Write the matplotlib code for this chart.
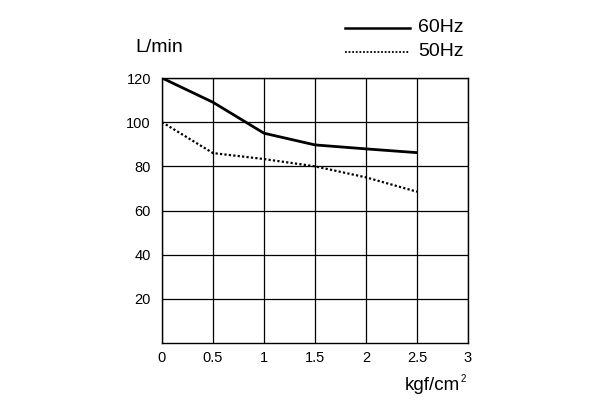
import matplotlib
matplotlib.use("Agg")
import matplotlib.pyplot as plt
from matplotlib.lines import Line2D

plt.rcParams['font.family'] = ['Liberation Sans', 'DejaVu Sans']

pressure = [0, 0.5, 1, 1.5, 2, 2.5]
flow_60hz = [120, 109, 95, 89.7, 87.9, 86.2]
flow_50hz = [100, 86, 83.3, 80, 75, 68.5]
x_ticks = [0, 0.5, 1, 1.5, 2, 2.5, 3]
x_tick_labels = ["0", "0.5", "1", "1.5", "2", "2.5", "3"]
y_ticks = [20, 40, 60, 80, 100, 120]
y_tick_labels = ["20", "40", "60", "80", "100", "120"]

fig = plt.figure(figsize=(6, 4), dpi=100)
ax = fig.add_axes([162/600, 1-343/400, (468-162)/600, (343-78)/400])
ax.set_xlim(0, 3)
ax.set_ylim(0, 120)
ax.set_xticks(x_ticks)
ax.set_xticklabels(x_tick_labels)
ax.set_yticks(y_ticks)
ax.set_yticklabels(y_tick_labels)
ax.grid(True, color='black', linewidth=0.9)
ax.tick_params(length=0, labelsize=10.5)
ax.tick_params(axis='x', pad=6)
ax.tick_params(axis='y', pad=8)
for s in ax.spines.values():
    s.set_color('black')
    s.set_linewidth(1.0)

ax.plot(pressure, flow_60hz, color='black', linewidth=2.0, solid_capstyle='butt')
ax.plot(pressure, flow_50hz, color='black', linewidth=1.6, linestyle=(0, (1, 1)))

fig.text(135/600, 1-48/400, "L/min", fontsize=14, va='center', ha='left')
fig.text(460/600, 1-390/400, "kgf/cm", fontsize=13.5, va='baseline', ha='right')
fig.text(461/600, 1-374/400, "2", fontsize=7, va='top', ha='left')

# legend
fig.add_artist(Line2D([345/600, 410/600], [1-28/400, 1-28/400], color='black', linewidth=1.8))
fig.add_artist(Line2D([345/600, 410/600], [1-52/400, 1-52/400], color='black', linewidth=1.3, linestyle=(0, (1, 1))))
fig.text(418/600, 1-28/400, "60Hz", fontsize=14, va='center', ha='left')
fig.text(418/600, 1-52/400, "50Hz", fontsize=14, va='center', ha='left')

fig.savefig("out.png", dpi=100)
